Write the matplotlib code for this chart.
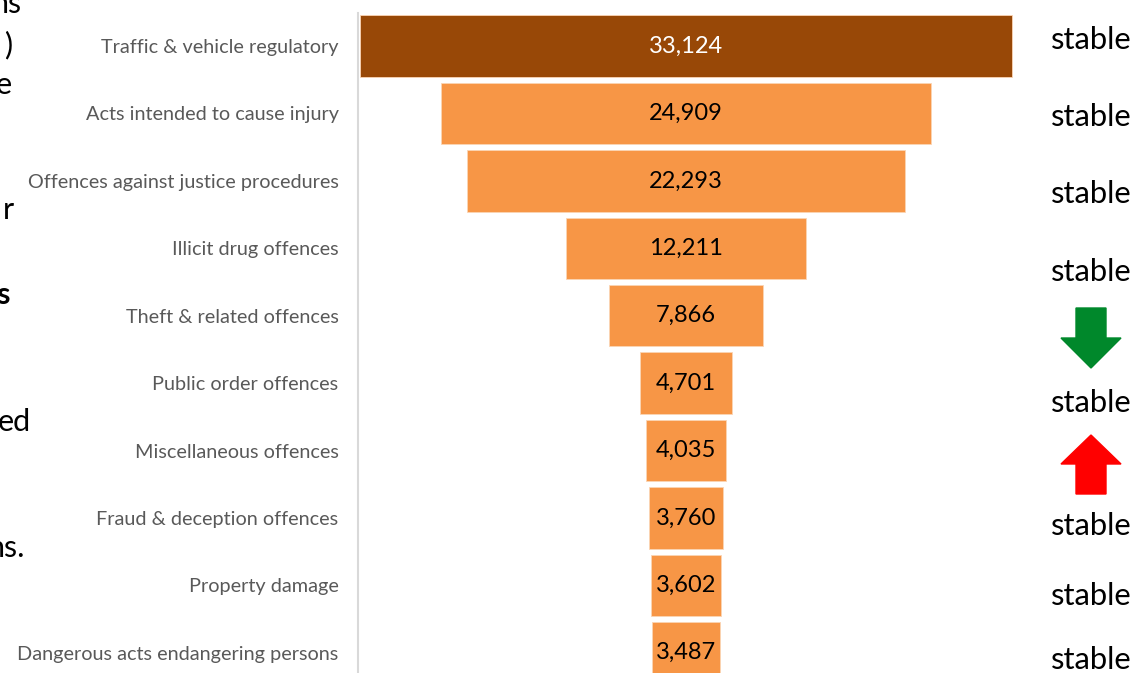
import matplotlib.pyplot as plt
from matplotlib.patches import Polygon

# datos del embudo
categorias = ['Traffic & vehicle regulatory', 'Acts intended to cause injury',
              'Offences against justice procedures', 'Illicit drug offences',
              'Theft & related offences', 'Public order offences',
              'Miscellaneous offences', 'Fraud & deception offences',
              'Property damage', 'Dangerous acts endangering persons']
valores = [33124, 24909, 22293, 12211, 7866, 4701, 4035, 3760, 3602, 3487]
tendencias = ['stable', 'stable', 'stable', 'stable', 'down',
              'stable', 'up', 'stable', 'stable', 'stable']

# fragmentos del texto de la diapositiva (cortado a la izquierda)
fragmentos = ['ns', ')', 'e', 'r', 's', 'ed', 'ns.']

W, H = 1133, 673
fig = plt.figure(figsize=(W / 100, H / 100), dpi=100)
fuente = 'Lato'

def fx(px):
    return px / W

def fy(py):
    return 1 - py / H

ax = fig.add_axes([fx(358), 0, fx(1014) - fx(358), (H - 13) / H])

colores = ['#984807'] + ['#F79646'] * (len(valores) - 1)
pos = list(range(len(valores)))
izq = [-v / 2 for v in valores]
ax.barh(pos, valores, left=izq, height=0.91, color=colores,
        edgecolor='#FBD5B5', linewidth=0.6)

for i, v in enumerate(valores):
    ax.text(0, i, f'{v:,}', ha='center', va='center', fontsize=17,
            family=fuente, color='white' if i == 0 else 'black')

ax.set_xlim(-16665, 16665)
ax.set_ylim(9.30, -0.49)
ax.set_yticks(pos)
ax.set_yticklabels(categorias, family=fuente, fontsize=14.3, color='#595959')
ax.tick_params(axis='y', length=0, pad=14)
ax.set_xticks([])
for s in ['top', 'right', 'bottom']:
    ax.spines[s].set_visible(False)
ax.spines['left'].set_color('#D9D9D9')
ax.spines['left'].set_linewidth(1.5)

# etiquetas de tendencia a la derecha
y_tend = [40, 117, 194, 272, 338, 403, 465, 526, 596, 660]
for t, yp in zip(tendencias, y_tend):
    if t == 'stable':
        fig.text(fx(1091), fy(yp), 'stable', ha='center', va='center',
                 fontsize=22.3, family=fuente, color='black')
    else:
        if t == 'down':
            pts = [(1076, yp - 30), (1106, yp - 30), (1106, yp), (1121, yp),
                   (1091, yp + 30), (1061, yp), (1076, yp)]
            col = '#00882B'
        else:
            pts = [(1091, yp - 30), (1121, yp - 1), (1106, yp - 1), (1106, yp + 29),
                   (1076, yp + 29), (1076, yp - 1), (1061, yp - 1)]
            col = '#FF0000'
        fig.patches.append(Polygon([(fx(a), fy(b)) for a, b in pts], closed=True,
                                   transform=fig.transFigure, color=col))

# restos del texto a la izquierda
y_frag = [4, 45, 85, 210, 295, 422, 548]
x_frag = [22, 12, 12, 14, 10, 31, 25]
for k, (f, xp, yp) in enumerate(zip(fragmentos, x_frag, y_frag)):
    fig.text(fx(xp), fy(yp), f, ha='right', va='center', fontsize=22,
             family=fuente, color='black', fontweight='bold' if k == 4 else 'normal')

fig.savefig('out.png', dpi=100)
